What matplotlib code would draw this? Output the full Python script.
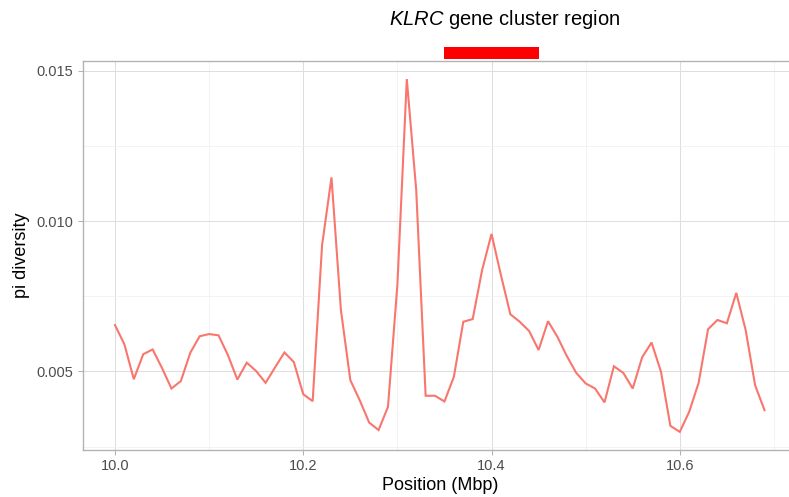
import matplotlib
matplotlib.use("Agg")
import matplotlib.pyplot as plt
from matplotlib.ticker import MultipleLocator, FixedLocator
import numpy as np

plt.rcParams['font.family'] = ['Liberation Sans', 'DejaVu Sans']
plt.rcParams['mathtext.fontset'] = 'custom'
plt.rcParams['mathtext.rm'] = 'Liberation Sans'
plt.rcParams['mathtext.it'] = 'Liberation Sans:italic'

# window start positions (Mbp) and nucleotide diversity
position = np.round(np.arange(70) * 0.01 + 10.0, 2)
pi_diversity = [
    0.00654, 0.00590, 0.00474, 0.00557, 0.00573, 0.00511, 0.00443, 0.00468,
    0.00562, 0.00617, 0.00624, 0.00620, 0.00554, 0.00473, 0.00529, 0.00501,
    0.00462, 0.00513, 0.00563, 0.00531, 0.00424, 0.00401, 0.00920, 0.01145,
    0.00704, 0.00471, 0.00404, 0.00330, 0.00305, 0.00382, 0.00788, 0.01472,
    0.01103, 0.00419, 0.00419, 0.00400, 0.00482, 0.00665, 0.00674, 0.00837,
    0.00957, 0.00820, 0.00690, 0.00665, 0.00634, 0.00571, 0.00667, 0.00615,
    0.00551, 0.00495, 0.00460, 0.00443, 0.00397, 0.00517, 0.00495, 0.00443,
    0.00547, 0.00596, 0.00499, 0.00319, 0.00299, 0.00366, 0.00462, 0.00640,
    0.00671, 0.00660, 0.00761, 0.00637, 0.00454, 0.00371,
]

# KLRC gene cluster span (Mbp)
cluster_start, cluster_end = 10.35, 10.45
cluster_label = r"$\mathit{KLRC}$ gene cluster region"

x_ticks = [10.0, 10.2, 10.4, 10.6]
y_ticks = [0.005, 0.010, 0.015]

W, H = 789, 497
fig = plt.figure(figsize=(W / 100, H / 100), dpi=100)
ax = fig.add_axes([82.5 / W, 47.5 / H, (797 - 82.5) / W, (449.5 - 61.4) / H])

ax.plot(position, pi_diversity, color="#F8766D", lw=1.5, solid_joinstyle="miter")

# ggplot-like expansion of 5% on each side
xmin, xmax = min(position), max(position)
ymin, ymax = min(pi_diversity), max(pi_diversity)
xr, yr = xmax - xmin, ymax - ymin
ax.set_xlim(xmin - 0.05 * xr, xmax + 0.05 * xr)
ax.set_ylim(ymin - 0.05 * yr, ymax + 0.05 * yr)

ax.xaxis.set_major_locator(FixedLocator(x_ticks))
ax.xaxis.set_minor_locator(FixedLocator([9.9, 10.1, 10.3, 10.5, 10.7]))
ax.yaxis.set_major_locator(FixedLocator(y_ticks))
ax.yaxis.set_minor_locator(FixedLocator([0.0025, 0.0075, 0.0125]))
ax.set_xticklabels([f"{v:.1f}" for v in x_ticks])
ax.set_yticklabels([f"{v:.3f}" for v in y_ticks])

ax.grid(which="major", color="#DEDEDE", lw=0.75)
ax.grid(which="minor", color="#EFEFEF", lw=0.5)
ax.set_axisbelow(True)
for s in ax.spines.values():
    s.set_color("#B3B3B3")
    s.set_linewidth(1.0)
ax.tick_params(which="major", length=3.5, width=0.75, color="#B3B3B3",
               labelcolor="#4D4D4D", labelsize=10.5, pad=3)
ax.tick_params(which="minor", length=0)

ax.set_xlabel("Position (Mbp)", fontsize=13, color="black", labelpad=3)
ax.set_ylabel("pi diversity", fontsize=13, color="black", labelpad=5)

# gene cluster marker above the panel
ax.fill_between([cluster_start, cluster_end], 0.0154, 0.0158,
                color="#FF0000", lw=0, clip_on=False)
ax.text(10.414, 0.01669, cluster_label, fontsize=14.5, ha="center",
        va="center", color="black", clip_on=False)

fig.savefig("out.png", dpi=100)
